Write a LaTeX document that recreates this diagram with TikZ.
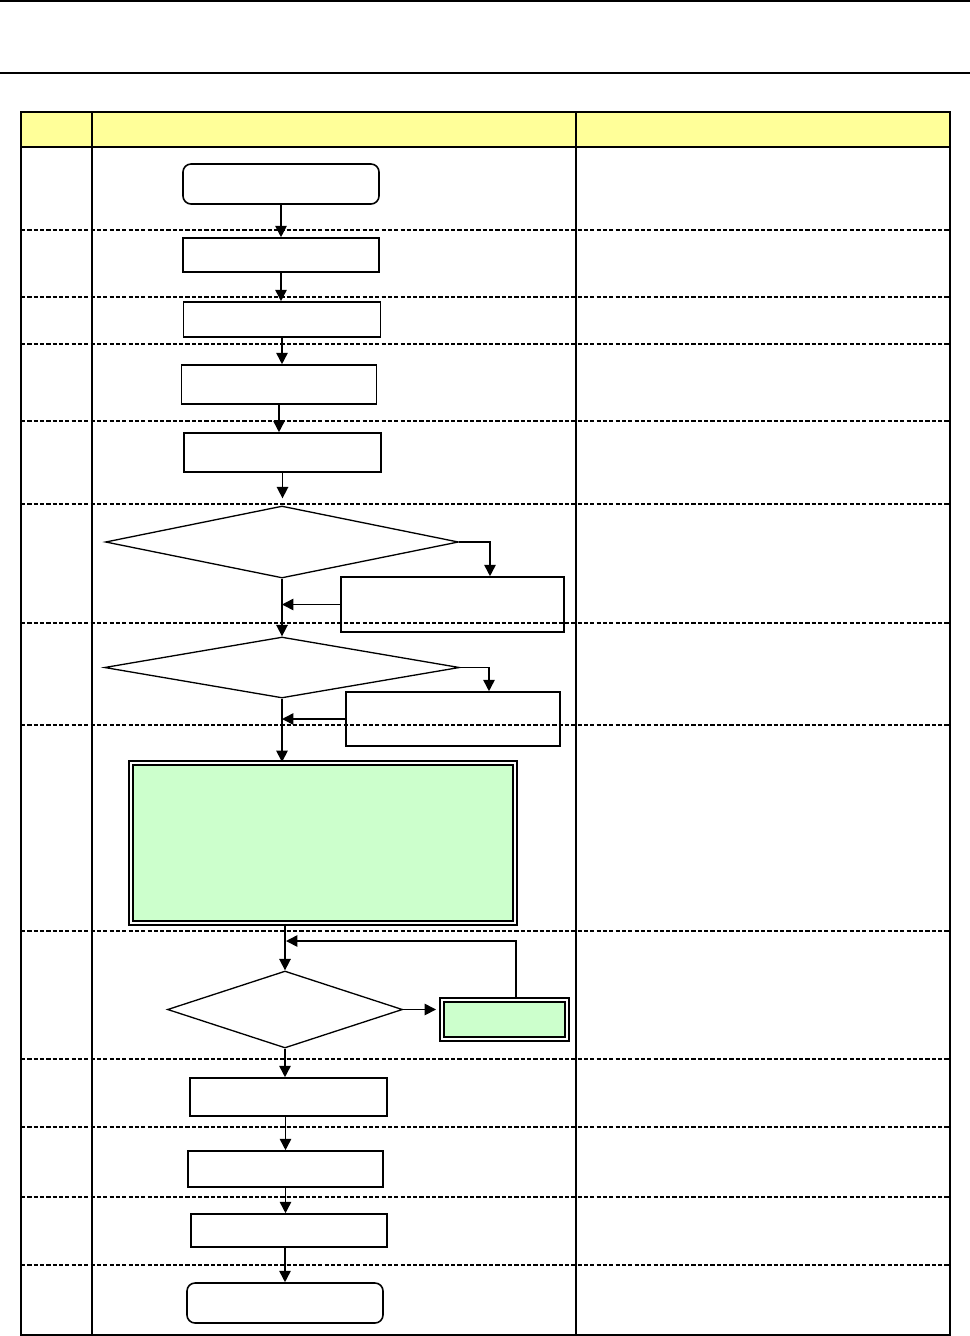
\documentclass[tikz,border=0pt]{standalone}
\usetikzlibrary{arrows.meta, calc, positioning, shapes.geometric}
\definecolor{hdryellow}{HTML}{FFFF99}
\definecolor{procgreen}{HTML}{CCFFCC}
\tikzset{
  >={Triangle[length=6.5pt, width=6.5pt]},
  every picture/.style={line join=miter},
  % sizes are given in pixels of the sheet (1px = 0.02cm)
  sz/.style 2 args={minimum width=#1*0.02cm, minimum height=#2*0.02cm},
  box/.style={draw, line width=0.9pt, inner sep=0pt},
  term/.style={box, rounded corners=0.16cm},
  decide/.style={draw, diamond, line width=0.75pt, inner sep=0pt},
  proc/.style={draw, fill=procgreen, line width=1.1pt, double=white, double distance=1.1pt, inner sep=0pt},
  flow/.style={->, line width=0.9pt},
  rowsep/.style={line width=0.6pt, dash pattern=on 2.4pt off 1.2pt},
}

\begin{document}
\begin{tikzpicture}[x=0.02cm, y=-0.02cm]
  \useasboundingbox (0,0) rectangle (970,1336);
  % page rules
  \draw[line width=1.2pt] (0,1) -- (970,1);
  \draw[line width=1.2pt] (0,73) -- (970,73);
  % table: header, row separators, frame
  \fill[hdryellow] (21,112) rectangle (950,147);
  \foreach \y in {230,297,344,421,504,623,725,931,1059,1127,1197,1265}
    \draw[rowsep] (21,\y) -- (950,\y);
  \draw[line width=0.8pt] (21,112) rectangle (950,1335);
  \draw[line width=0.8pt] (21,147) -- (950,147);
  \draw[line width=0.8pt] (92,112) -- (92,1335) (576,112) -- (576,1335);
  % flow chart
  \node[term, sz={196}{40}] (start) at (281,184) {};
  \node[box, sz={196}{34}] (b2) at (281,255) {};
  \node[box, sz={197}{35}] (b3) at (282,319.5) {};
  \node[box, sz={195}{39}] (b4) at (279,384.5) {};
  \node[box, sz={197}{39}] (b5) at (282.5,452.5) {};
  \node[decide, sz={353}{72}] (d1) at (282,542) {};
  \node[box, sz={223}{55}] (sa) at (452.5,604.5) {};
  \node[decide, sz={355}{61}] (d2) at (282,667.5) {};
  \node[box, sz={214}{54}] (sb) at (453,719) {};
  \node[proc, sz={384}{160}] (big) at (323,843) {};
  \node[decide, sz={235}{77}] (d3) at (285,1009.5) {};
  \node[proc, sz={125}{39}] (small) at (504.5,1019.5) {};
  \coordinate (loopin) at (286,941);
  \node[box, sz={197}{38}] (b13) at (288.5,1097) {};
  \node[box, sz={195}{36}] (b14) at (285.5,1169) {};
  \node[box, sz={196}{33}] (b15) at (289,1230.5) {};
  \node[term, sz={196}{40}] (end) at (285,1303) {};
  % connectors
  \draw[flow] (start.south) -- (start.south |- b2.north);
  \draw[flow] (b2.south) -- (b2.south |- b3.north);
  \draw[flow] (b3.south) -- (b3.south |- b4.north);
  \draw[flow] (b4.south) -- (b4.south |- b5.north);
  \draw[flow, shorten >=0.14cm] (b5.south) -- (b5.south |- d1.north);
  \draw[flow] (d1.east) -| ($(sa.north)+(37.5,0)$);
  \draw[flow] (sa.west) -- (sa.west -| d1.south);
  \draw[flow] (d1.south) -- (d2.north);
  \draw[flow] (d2.east) -| ($(sb.north)+(36,0)$);
  \draw[flow] (sb.west) -- (sb.west -| d2.south);
  \draw[flow] (d2.south) -- (d2.south |- big.north);
  \draw[flow] (d3.north |- big.south) -- (d3.north);
  \draw[flow] ($(small.north)+(11.5,0)$) |- (loopin);
  \draw[flow, shorten >=0.1cm] (d3.east) -- (d3.east -| small.west);
  \draw[flow] (d3.south) -- (d3.south |- b13.north);
  \draw[flow] (b14.north |- b13.south) -- (b14.north);
  \draw[flow] (b14.south) -- (b14.south |- b15.north);
  \draw[flow] (end.north |- b15.south) -- (end.north);
\end{tikzpicture}
\end{document}
